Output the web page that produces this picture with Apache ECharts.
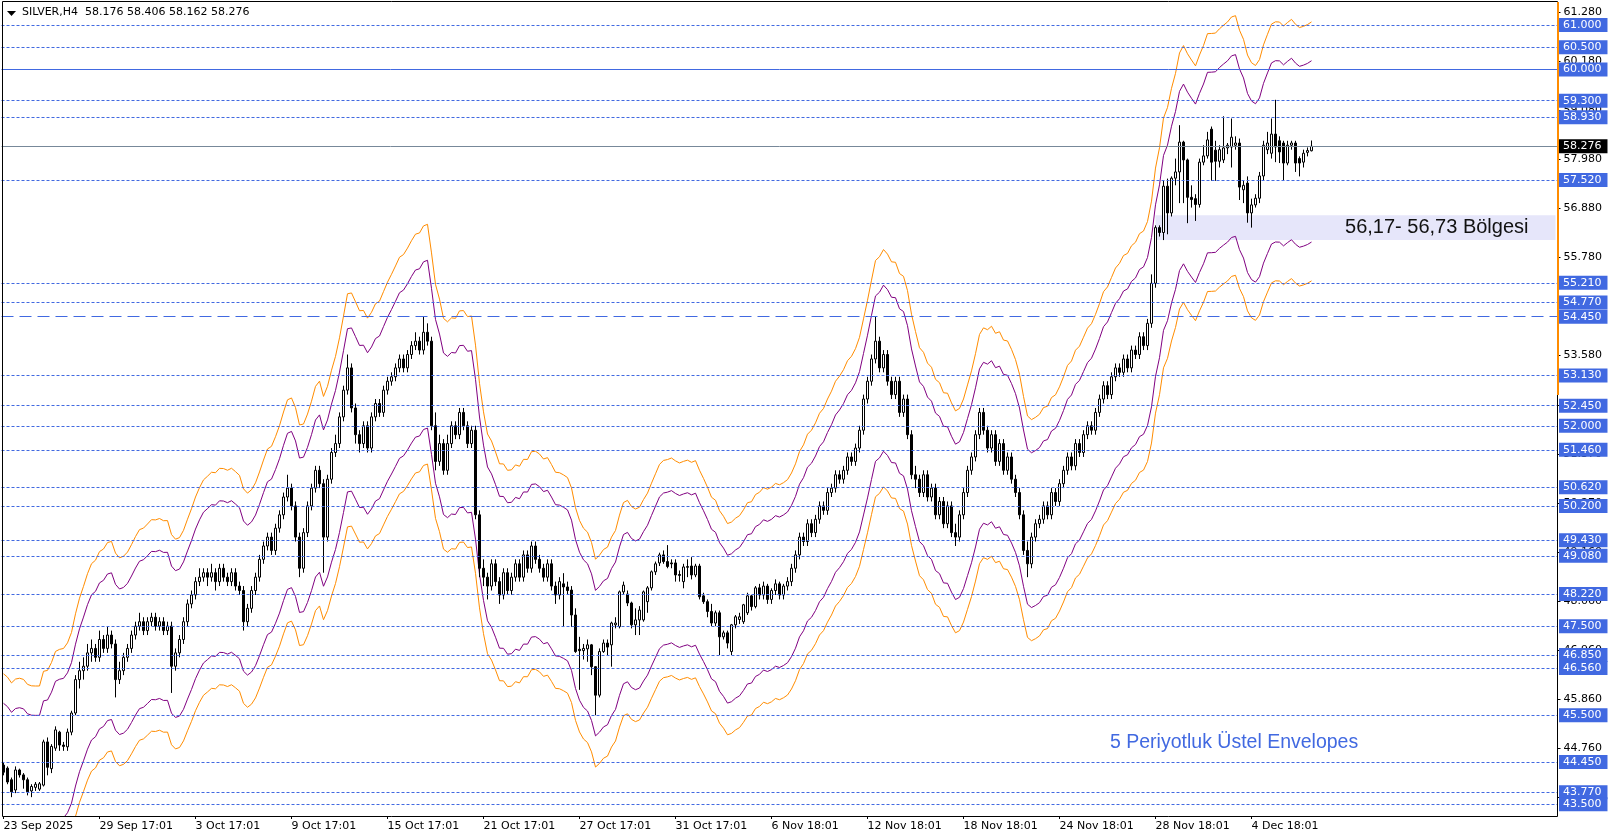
<!DOCTYPE html>
<html><head><meta charset="utf-8">
<script src="https://cdn.jsdelivr.net/npm/echarts@6/dist/echarts.min.js"></script>
<style>html,body{margin:0;padding:0;background:#fff}#c{width:1614px;height:840px}</style>
</head><body><div id="c"></div>
<script>
// SILVER,H4 candles (bar 0 = 23 Sep 2025 17:01)
const opens = [
44.38,44.31,44.05,43.82,44.27,44.16,44.05,43.80,43.88,43.84,43.93,44.90,44.30,44.76,45.12,44.83,44.79,45.12,
45.55,46.3,46.5,46.6,46.9,47.0,46.8,47.2,47.0,47.3,47.1,
46.3,46.5,46.8,47.0,47.3,47.5,47.6,47.4,47.6,47.7,47.5,47.6,47.4,47.5,
46.6,46.9,47.2,47.6,48.0,48.2,48.5,48.6,48.7,48.6,48.7,48.5,48.8,48.6,48.5,48.7,48.4,48.3,
47.6,47.9,48.3,48.6,49.0,49.3,49.5,49.2,49.7,50.0,50.4,50.6,50.2,49.5,48.8,
49.6,50.2,50.6,51.0,50.7,49.5,50.8,51.4,51.6,52.2,52.8,53.3,52.4,51.8,51.6,52.0,51.5,52.2,52.5,52.3,52.8,
53.0,53.1,53.3,53.5,53.3,53.6,53.8,53.9,53.7,54.1,53.9,52.0,51.2,51.6,51.0,51.6,52.0,51.8,52.3,52.0,51.6,
51.9,50.0,48.8,48.6,48.4,48.9,48.5,48.2,48.7,48.3,48.6,48.9,48.6,49.1,48.8,
49.3,49.0,48.8,48.6,48.9,48.4,48.2,
48.45,48.38,48.31,47.75,46.98,46.95,46.99,47.08,46.59,45.95,46.93,47.12,47.08,47.53,47.49,48.27,48.22,48.02,47.53,47.64,47.64,48.05,48.36,48.72,48.92,49.1,48.95,48.92,48.92,48.66,48.5,48.82,48.85,48.65,48.85,48.18,48.05,47.83,47.57,47.8,47.26,47.35,46.93,47.53,47.65,47.6,47.8,48.18,47.94,
48.36,48.2,48.4,48.1,48.3,48.45,48.2,48.4,
48.5,48.8,49.1,49.5,49.4,49.8,49.6,49.9,50.2,50.1,50.5,50.6,50.9,50.8,51.0,51.3,51.2,
51.5,51.9,52.6,53.0,53.5,53.9,53.3,53.6,53.0,52.7,53.0,52.3,52.6,51.8,50.9,50.8,50.5,50.9,50.4,50.6,50.0,50.3,49.8,50.2,49.6,49.5,
50.0,50.5,51.0,51.3,51.8,52.3,51.9,51.5,51.8,51.2,51.6,51.0,51.3,50.8,50.5,50.0,49.2,
48.9,49.5,49.8,49.9,50.2,50.0,50.5,50.3,50.7,51.0,51.3,51.1,51.6,51.4,51.8,52.0,51.9,52.3,52.6,52.9,52.7,53.1,53.3,
53.2,53.5,53.3,53.7,53.6,54.0,53.8,54.3,55.2,
56.45,56.34,57.38,56.78,57.56,57.7,58.37,57.97,57.13,57.1,56.97,57.92,58.06,58.66,58.19,57.94,57.97,58.24,58.26,58.3,58.35,57.3,57.45,56.78,56.96,57.11,57.61,58.2,58.12,58.55,58.4,58.35,57.9,58.3,58.35,58.0,57.92,58.14,58.176];
const highs = [
44.45,44.35,44.10,44.35,44.30,44.20,44.10,43.95,44.00,44.00,44.95,45.00,44.85,45.25,45.15,44.90,45.20,45.60,
46.4,46.7,46.8,47.1,47.2,47.1,47.4,47.3,47.5,47.4,47.2,
46.7,46.9,47.1,47.4,47.6,47.8,47.7,47.7,47.8,47.8,47.7,47.7,47.6,47.6,
47.0,47.3,47.7,48.1,48.3,48.6,48.8,48.8,48.8,48.9,48.8,48.9,48.9,48.7,48.8,48.8,48.5,48.4,
48.0,48.4,48.7,49.1,49.4,49.6,49.6,49.8,50.1,50.5,50.9,50.7,50.3,49.6,49.7,
50.3,50.7,51.1,51.1,50.8,50.9,51.5,51.8,52.3,52.9,53.6,53.4,52.5,51.9,52.1,52.1,52.3,52.6,52.6,52.9,53.1,
53.2,53.4,53.6,53.6,53.7,53.9,54.1,54.0,54.45,54.3,54.0,52.3,51.8,51.7,51.8,52.1,52.1,52.4,52.4,52.1,52.0,
52.0,50.1,49.0,48.7,49.0,49.0,48.6,48.8,48.8,48.7,49.0,49.0,49.2,49.2,49.4,
49.4,49.1,48.9,49.0,49.0,48.5,48.6,
48.69,48.5,48.4,47.9,47.26,47.1,47.2,47.1,46.6,47.0,47.2,47.2,47.6,47.7,48.3,48.5,48.3,48.05,47.9,47.95,48.3,48.4,48.75,48.95,49.15,49.2,49.32,49.0,49.0,48.75,48.9,49.0,49.05,48.9,48.9,48.25,48.1,48.0,47.85,47.85,47.4,47.4,47.55,47.75,47.8,48.0,48.25,48.2,48.4,
48.45,48.5,48.45,48.35,48.55,48.5,48.45,48.6,
48.9,49.2,49.6,49.6,49.9,49.9,50.0,50.3,50.3,50.6,50.7,51.0,51.0,51.1,51.4,51.4,51.6,
52.0,52.7,53.1,53.6,54.45,54.0,53.7,53.7,53.1,53.1,53.1,52.7,52.7,51.9,51.1,50.9,51.0,51.0,50.7,50.7,50.4,50.4,50.3,50.3,49.8,50.1,
50.6,51.1,51.4,51.9,52.4,52.4,52.0,51.9,51.9,51.7,51.7,51.4,51.4,50.9,50.6,50.1,49.4,
49.6,49.9,50.0,50.3,50.3,50.6,50.6,50.8,51.1,51.4,51.4,51.7,51.7,51.9,52.1,52.1,52.4,52.7,53.0,53.0,53.2,53.4,53.4,
53.6,53.6,53.8,53.8,54.1,54.1,54.4,55.4,56.5,
56.5,57.5,57.55,57.6,58.0,58.75,58.4,58.0,57.4,57.2,58.0,58.3,58.6,58.72,58.4,58.3,58.95,58.35,58.9,58.5,58.45,57.5,57.6,57.1,57.2,57.7,58.4,58.6,58.9,59.32,58.5,58.4,58.4,58.4,58.4,58.05,58.2,58.25,58.406];
const lows = [
44.15,43.95,43.66,43.75,44.10,43.85,43.70,43.66,43.80,43.80,43.90,44.15,44.20,44.70,44.70,44.70,44.70,45.05,
45.5,46.1,46.3,46.5,46.7,46.7,46.7,46.9,46.9,47.0,45.9,
46.2,46.4,46.7,46.9,47.2,47.4,47.3,47.3,47.5,47.4,47.4,47.3,47.3,46.0,
46.5,46.8,47.1,47.5,47.9,48.1,48.4,48.5,48.4,48.5,48.3,48.4,48.5,48.4,48.4,48.3,48.2,47.4,
47.5,47.8,48.2,48.5,48.9,49.2,49.1,49.1,49.6,49.9,50.3,50.1,49.4,48.6,48.7,
49.5,50.1,50.5,50.6,48.7,49.4,50.7,51.3,51.5,52.1,52.7,52.3,51.6,51.4,51.5,51.4,51.4,52.1,52.2,52.2,52.7,
52.9,53.0,53.2,53.2,53.2,53.5,53.7,53.6,53.6,53.8,51.9,51.0,51.1,50.9,50.9,51.5,51.7,51.7,51.9,51.5,51.5,
49.9,48.6,48.4,48.1,48.3,48.4,48.0,48.1,48.2,48.2,48.5,48.5,48.5,48.7,48.7,
48.9,48.7,48.5,48.5,48.3,48.0,48.1,
47.48,48.2,47.48,46.9,46.07,46.75,46.7,46.4,45.5,45.9,46.9,46.85,46.59,47.45,47.45,48.2,47.95,47.45,47.3,47.3,47.6,47.8,48.3,48.65,48.85,48.9,48.8,48.8,48.5,48.5,48.35,48.6,48.55,48.6,48.1,48.0,47.7,47.5,47.5,46.85,47.2,47.0,46.85,47.45,47.55,47.55,47.75,47.85,47.9,
48.1,48.1,48.0,48.0,48.2,48.1,48.1,48.3,
48.4,48.7,49.0,49.3,49.3,49.5,49.5,49.8,50.0,50.0,50.4,50.5,50.7,50.7,50.9,51.1,51.1,
51.4,51.8,52.5,52.9,53.4,53.2,53.2,52.9,52.6,52.6,52.2,52.2,51.7,50.8,50.6,50.4,50.4,50.3,50.3,49.9,49.9,49.7,49.7,49.5,49.3,49.4,
49.9,50.4,50.9,51.2,51.7,51.8,51.4,51.4,51.1,51.1,50.9,50.9,50.7,50.4,49.9,49.1,48.6,
48.8,49.4,49.7,49.8,49.9,49.9,50.2,50.2,50.6,50.9,51.0,51.0,51.3,51.3,51.7,51.8,51.8,52.2,52.5,52.6,52.6,53.0,53.1,
53.1,53.2,53.2,53.5,53.5,53.7,53.7,54.2,55.1,
56.25,56.17,56.3,56.7,57.4,57.0,57.0,56.55,56.9,56.6,56.9,57.85,58.0,57.5,57.5,57.8,57.9,58.1,57.8,58.2,57.07,57.0,56.56,56.45,56.9,57.0,57.5,58.1,58.0,57.92,57.9,57.5,57.85,58.2,57.7,57.6,57.8,58.05,58.162];
const closes = [
44.22,44.00,43.78,44.27,44.16,44.05,43.78,43.90,43.95,43.96,44.90,44.33,44.80,45.17,44.83,44.80,45.12,45.55,
46.3,46.5,46.6,46.9,47.0,46.8,47.2,47.0,47.3,47.1,46.3,
46.5,46.8,47.0,47.3,47.5,47.6,47.4,47.6,47.7,47.5,47.6,47.4,47.5,46.6,
46.9,47.2,47.6,48.0,48.2,48.5,48.6,48.7,48.6,48.7,48.5,48.8,48.6,48.5,48.7,48.4,48.3,47.6,
47.9,48.3,48.6,49.0,49.3,49.5,49.2,49.7,50.0,50.4,50.6,50.2,49.5,48.8,49.6,
50.2,50.6,51.0,50.7,49.5,50.8,51.4,51.6,52.2,52.8,53.3,52.4,51.8,51.6,52.0,51.5,52.2,52.5,52.3,52.8,53.0,
53.1,53.3,53.5,53.3,53.6,53.8,53.9,53.7,54.1,53.9,52.0,51.2,51.6,51.0,51.6,52.0,51.8,52.3,52.0,51.6,51.9,
50.0,48.8,48.6,48.4,48.9,48.5,48.2,48.7,48.3,48.6,48.9,48.6,49.1,48.8,49.3,
49.0,48.8,48.6,48.9,48.4,48.2,48.5,
48.38,48.3,47.75,46.93,46.95,47.0,47.08,46.59,45.95,46.93,47.12,47.03,47.57,47.57,48.27,48.42,48.02,47.53,47.64,47.86,48.27,48.36,48.72,48.9,49.1,48.95,48.84,48.9,48.65,48.64,48.83,48.84,48.65,48.85,48.16,48.05,47.83,47.57,47.8,47.26,47.35,47.12,47.53,47.71,47.71,47.98,48.18,47.94,48.36,
48.2,48.4,48.1,48.3,48.45,48.2,48.4,48.5,
48.8,49.1,49.5,49.4,49.8,49.6,49.9,50.2,50.1,50.5,50.6,50.9,50.8,51.0,51.3,51.2,51.5,
51.9,52.6,53.0,53.5,53.9,53.3,53.6,53.0,52.7,53.0,52.3,52.6,51.8,50.9,50.8,50.5,50.9,50.4,50.6,50.0,50.3,49.8,50.2,49.6,49.5,50.0,
50.5,51.0,51.3,51.8,52.3,51.9,51.5,51.8,51.2,51.6,51.0,51.3,50.8,50.5,50.0,49.2,48.9,
49.5,49.8,49.9,50.2,50.0,50.5,50.3,50.7,51.0,51.3,51.1,51.6,51.4,51.8,52.0,51.9,52.3,52.6,52.9,52.7,53.1,53.3,53.2,
53.5,53.3,53.7,53.6,54.0,53.8,54.3,55.2,56.45,
56.34,57.38,56.78,57.56,57.7,58.37,57.97,57.13,57.08,56.97,57.92,58.06,58.42,57.92,57.94,58.2,58.24,58.3,58.48,58.35,57.36,57.4,56.78,56.96,57.11,57.61,58.3,58.35,58.55,58.26,58.15,57.9,58.3,58.35,57.9,57.9,58.12,58.18,58.276];

const tickLabels = ['23 Sep 2025','29 Sep 17:01','3 Oct 17:01','9 Oct 17:01','15 Oct 17:01','21 Oct 17:01','27 Oct 17:01','31 Oct 17:01','6 Nov 18:01','12 Nov 18:01','18 Nov 18:01','24 Nov 18:01','28 Nov 18:01','4 Dec 18:01'];
const dottedLevels = [61.0,60.5,59.3,58.93,57.52,55.21,54.77,53.13,52.45,52.0,51.46,50.62,50.2,49.43,49.08,48.22,47.5,46.85,46.56,45.5,44.45,43.77,43.5];
const solidLevels = [60.0];
const longDashLevels = [54.45];
const lastPrice = 58.276;
const priceTicks = [61.28,60.18,59.08,57.98,56.88,55.78,54.68,53.58,52.47,51.37,50.27,49.16,48.06,46.96,45.86,44.76,43.66];
const zone = [56.17, 56.73];
const zoneStartBar = 288;
const envPeriod = 5, envInner = 0.035, envOuter = 0.05;

const SLOTS = 389;
const cats = Array.from({length: SLOTS}, (_, i) => String(i));
const candles = closes.map((c, i) => [opens[i], c, lows[i], highs[i]]);
// Envelopes indicator (EMA of close, ±3.5% / ±5%) computed from the read closes
const ema = []; const k = 2/(envPeriod+1);
closes.forEach((c,i)=>{ ema.push(i ? ema[i-1] + k*(c-ema[i-1]) : c); });
const env = f => ema.map(v => +(v*f).toFixed(4));

const FONT = 'DejaVu Sans';
const blue = '#4169E1';
const lvlLabel = {show:true, position:'end', distance:1.5, color:'#fff', backgroundColor:blue, padding:[2,6,1,4], fontSize:11, fontFamily:FONT, lineHeight:11, formatter: p => Number(p.value).toFixed(3)};
const mlData = [];
dottedLevels.forEach(v => mlData.push({yAxis:v, lineStyle:{color:blue, type:[3,2], width:1}}));
solidLevels.forEach(v => mlData.push({yAxis:v, lineStyle:{color:blue, type:'solid', width:1}}));
longDashLevels.forEach(v => mlData.push({yAxis:v, lineStyle:{color:blue, type:[12,6], width:1}}));
mlData.push({yAxis:lastPrice, lineStyle:{color:'#778899', type:'solid', width:1}, label:{backgroundColor:'#000'}});

const chart = echarts.init(document.getElementById('c'), null, {renderer:'canvas'});
const yMax = 61.5165, yMin = 43.2366;
chart.setOption({
  animation:false,
  backgroundColor:'#fff',
  grid:{left:1.5, top:2, right:56.5, bottom:24, containLabel:false},
  xAxis:{type:'category', data:cats, boundaryGap:true,
    axisLine:{show:false},
    axisTick:{show:true, alignWithLabel:true, length:3, interval:(i)=> i%24===0 && i/24 < tickLabels.length, lineStyle:{color:'#000'}},
    axisLabel:{show:true, interval:(i)=> i%24===0 && i/24 < tickLabels.length, align:'left', margin:5, fontSize:11, fontFamily:FONT, color:'#000',
      formatter:(v, idx)=> tickLabels[idx/24] || ''},
    splitLine:{show:false}},
  yAxis:{type:'value', position:'right', min:yMin, max:yMax, scale:true,
    axisLine:{show:false}, splitLine:{show:false},
    axisTick:{show:true, length:3, customValues:priceTicks, lineStyle:{color:'#000'}},
    axisLabel:{show:true, customValues:priceTicks, margin:6, fontSize:11, fontFamily:FONT, color:'#000', formatter:v=>Number(v).toFixed(3)}},
  series:[
    {type:'line', name:'envU2', data:env(1+envOuter), showSymbol:false, symbol:'none', lineStyle:{color:'#FF8C00', width:1}, z:2, silent:true},
    {type:'line', name:'envU1', data:env(1+envInner), showSymbol:false, symbol:'none', lineStyle:{color:'#800080', width:1}, z:2, silent:true},
    {type:'line', name:'envL1', data:env(1-envInner), showSymbol:false, symbol:'none', lineStyle:{color:'#800080', width:1}, z:2, silent:true},
    {type:'line', name:'envL2', data:env(1-envOuter), showSymbol:false, symbol:'none', lineStyle:{color:'#FF8C00', width:1}, z:2, silent:true},
    {type:'candlestick', name:'SILVER,H4', data:candles, barWidth:2, z:3, silent:true,
      itemStyle:{color:'#fff', color0:'#000', borderColor:'#000', borderColor0:'#000', borderWidth:1},
      markArea:{silent:true, itemStyle:{color:'#E6E6FA'},
        label:{show:true, position:'insideRight', distance:27, fontSize:20, fontFamily:'Liberation Sans', color:'#111', formatter:'56,17- 56,73 Bölgesi'},
        data:[[{xAxis:String(zoneStartBar), yAxis:zone[0]},{xAxis:String(SLOTS-1), yAxis:zone[1]}]]},
      markLine:{silent:true, symbol:'none', animation:false, precision:3, label:lvlLabel, data:mlData, z:5}
    }
  ],
  graphic:[
    {type:'rect', shape:{x:2.5, y:1.5, width:1555, height:815}, style:{fill:null, stroke:'#000', lineWidth:1}, z:100, silent:true},
    {type:'line', shape:{x1:1558, y1:2, x2:1558, y2:395}, style:{stroke:'#FF8C00', lineWidth:2}, z:101, silent:true},
    {type:'polygon', shape:{points:[[7,11],[16,11],[11.5,16]]}, style:{fill:'#000'}, z:101},
    {type:'text', left:22, top:7, style:{text:'SILVER,H4  58.176 58.406 58.162 58.276', font:'11px "DejaVu Sans"', fill:'#000'}, z:101},
    {type:'text', left:1110, top:733, style:{text:'5 Periyotluk Üstel Envelopes', font:'19.5px "Liberation Sans"', fill:blue}, z:101}
  ]
});
</script></body></html>
